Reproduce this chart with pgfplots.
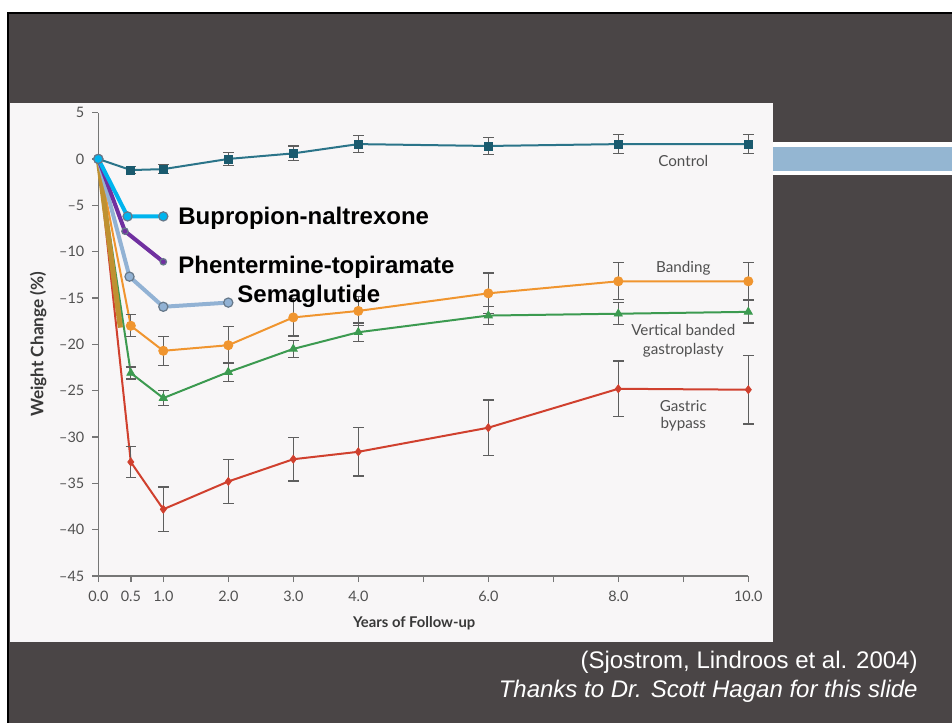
\documentclass[border=0pt]{standalone}
\usepackage{pgfplots}
\pgfplotsset{compat=1.18}
\usepackage{pgfplotstable}
\usepackage{fontspec}
\setmainfont{Liberation Sans}
\newfontfamily\lato{Lato}

\definecolor{slide}{HTML}{4A4546}
\definecolor{chartbg}{HTML}{F8F6F7}
\definecolor{barblue}{HTML}{94B6D2}
\definecolor{axgray}{HTML}{767676}
\definecolor{errgray}{HTML}{5E5E5E}
\definecolor{labgray}{HTML}{505050}
\definecolor{ctrlc}{HTML}{2B7489}
\definecolor{ctrlm}{HTML}{1A5A6E}
\definecolor{bandc}{HTML}{F0952F}
\definecolor{vbgc}{HTML}{3C9A50}
\definecolor{bypc}{HTML}{D0402E}
\definecolor{bupc}{HTML}{00B4EE}
\definecolor{phenc}{HTML}{7030A0}
\definecolor{semac}{HTML}{92B2D4}
\definecolor{goldc}{HTML}{BF9131}
\definecolor{outl}{HTML}{66788A}

\pgfplotstableread{
x y e
0 0 0
0.5 -1.2 0.4
1 -1.1 0.5
2 0.0 0.7
3 0.6 0.8
4 1.6 0.9
6 1.4 0.9
8 1.6 1.0
10 1.6 1.0
}\ctrl
\pgfplotstableread{
x y e
0 0 0
0.5 -18.0 1.2
1 -20.7 1.55
2 -20.1 2.0
3 -17.1 2.0
4 -16.4 1.6
6 -14.5 2.2
8 -13.2 2.0
10 -13.2 2.0
}\band
\pgfplotstableread{
x y e
0 0 0
0.5 -23.1 0.65
1 -25.8 0.8
2 -23.0 1.05
3 -20.5 0.95
4 -18.7 1.0
6 -16.9 1.0
8 -16.7 1.2
10 -16.5 1.2
}\vbg
\pgfplotstableread{
x y e
0 0 0
0.5 -32.7 1.7
1 -37.8 2.4
2 -34.8 2.4
3 -32.4 2.35
4 -31.6 2.6
6 -29.0 3.0
8 -24.8 3.0
10 -24.9 3.7
}\byp

\begin{document}
\begin{tikzpicture}[x=0.5pt,y=0.5pt]
\useasboundingbox (0,0) rectangle (952,723);
\fill[white] (0,0) rectangle (952,723);
\fill[black] (6.5,0) rectangle (952,710.5);
\fill[slide] (9,0) rectangle (952,708.7);
\fill[chartbg] (10,81) rectangle (772.5,620);
\fill[white] (773,548) rectangle (952,581);
\fill[barblue] (773,552.3) rectangle (952,576.3);

\begin{axis}[
  at={(49.15pt,73.5pt)}, anchor=south west,
  scale only axis, width=325pt, height=231.7pt,
  xmin=0, xmax=10, ymin=-45, ymax=5,
  clip=false,
  axis lines=left,
  axis line style={-, axgray, line width=0.7pt},
  tick style={axgray, line width=0.7pt},
  tick align=outside, major tick length=3pt,
  xtick={0,0.5,1,2,3,4,5,6,7,8,9,10},
  xticklabels={0.0,0.5,1.0,2.0,3.0,4.0,,6.0,,8.0,,10.0},
  ytick={-45,-40,-35,-30,-25,-20,-15,-10,-5,0,5},
  yticklabels={–45,–40,–35,–30,–25,–20,–15,–10,–5,0,5},
  every tick label/.append style={font=\lato\fontsize{7.2}{8}\selectfont, text=labgray},
  xticklabel style={yshift=-1pt},
  yticklabel style={xshift=-0.5pt},
  xlabel={Years of Follow-up},
  ylabel={Weight Change (\%)},
  every axis x label/.style={at={(rel axis cs:0.486,0)}, yshift=-23.5pt, anchor=center,
     font=\lato\bfseries\fontsize{7.4}{9}\selectfont, text=labgray!70!black},
  every axis y label/.style={at={(rel axis cs:0,0.5)}, xshift=-30pt, rotate=90, anchor=center,
     font=\lato\bfseries\fontsize{8.6}{10}\selectfont, text=labgray!70!black},
  error bars/error bar style={errgray, line width=0.6pt},
  error bars/error mark=-,
  error bars/error mark options={errgray, line width=0.6pt, mark size=2.6pt, rotate=90},
]
% original series: lines
\addplot[ctrlc, line width=1pt, no marks] table[x=x,y=y] {\ctrl};
\addplot[bandc, line width=1pt, no marks] table[x=x,y=y] {\band};
\addplot[vbgc, line width=1pt, no marks] table[x=x,y=y] {\vbg};
\addplot[bypc, line width=1pt, no marks] table[x=x,y=y] {\byp};
% markers with error bars
\addplot[only marks, mark=square*, mark size=2pt, mark options={fill=ctrlm, draw=ctrlm},
  error bars/.cd, y dir=both, y explicit]
  table[x=x,y=y,y error=e, skip coords between index={0}{1}] {\ctrl};
\addplot[only marks, mark=*, mark size=2.3pt, mark options={fill=bandc, draw=bandc},
  error bars/.cd, y dir=both, y explicit]
  table[x=x,y=y,y error=e, skip coords between index={0}{1}] {\band};
\addplot[only marks, mark=triangle*, mark size=2.3pt, mark options={fill=vbgc, draw=vbgc},
  error bars/.cd, y dir=both, y explicit]
  table[x=x,y=y,y error=e, skip coords between index={0}{1}] {\vbg};
\addplot[only marks, mark=diamond*, mark size=2pt, mark options={fill=bypc, draw=bypc},
  error bars/.cd, y dir=both, y explicit]
  table[x=x,y=y,y error=e, skip coords between index={0}{1}] {\byp};

% overlay drug lines
\addplot[goldc, line width=2.6pt, no marks] coordinates {(0,0) (0.34,-18.2)};
\addplot[semac, line width=2pt, mark=*, mark size=2.3pt, mark options={fill=semac, draw=outl, line width=0.6pt}]
  coordinates {(0,0) (0.48,-12.7) (1.0,-15.95) (2.0,-15.5)};
\addplot[phenc, line width=2pt, mark=*, mark size=1.6pt, mark options={fill=phenc, draw=outl, line width=0.6pt}]
  coordinates {(0,0) (0.41,-7.8) (1.0,-11.1)};
\addplot[bupc, line width=2pt, mark=*, mark size=2.3pt, mark options={fill=bupc, draw=outl, line width=0.6pt}]
  coordinates {(0,0) (0.45,-6.2) (1.0,-6.2)};

% in-chart labels
\node[font=\lato\fontsize{7.6}{9}\selectfont, text=labgray] at (axis cs:9,-0.25) {Control};
\node[font=\lato\fontsize{7.6}{9}\selectfont, text=labgray] at (axis cs:9,-11.8) {Banding};
\node[font=\lato\fontsize{7.6}{9.6}\selectfont, text=labgray, align=center] at (axis cs:9,-19.65) {Vertical banded\\gastroplasty};
\node[font=\lato\fontsize{7.6}{8.6}\selectfont, text=labgray, align=center] at (axis cs:9,-27.75) {Gastric\\bypass};

\node[font=\bfseries\fontsize{12}{14}\selectfont, anchor=west, inner sep=0pt] at (axis cs:1.226,-6.38) {Bupropion-naltrexone};
\node[font=\bfseries\fontsize{12}{14}\selectfont, anchor=west, inner sep=0pt] at (axis cs:1.226,-11.66) {Phentermine-topiramate};
\node[font=\bfseries\fontsize{12}{14}\selectfont, anchor=west, inner sep=0pt] at (axis cs:2.134,-14.79) {Semaglutide};
\end{axis}

\node[anchor=base east, inner sep=0pt, text=white, font=\fontsize{12}{14}\selectfont] at (918,55) {(Sjostrom, Lindroos et al. 2004)};
\node[anchor=base east, inner sep=0pt, text=white, font=\itshape\fontsize{12}{14}\selectfont] at (918,26) {Thanks to Dr. Scott Hagan for this slide};
\end{tikzpicture}
\end{document}
